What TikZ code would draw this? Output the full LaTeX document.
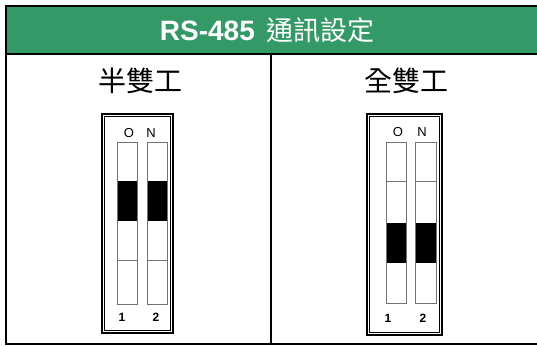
\documentclass[tikz,border=0pt]{standalone}
\usepackage{fontspec}
\setmainfont{Liberation Sans}
\newfontfamily\cjk{Noto Sans CJK TC}
\definecolor{hdr}{HTML}{339966}
\begin{document}
\begin{tikzpicture}[x=1pt,y=-1pt,
  frameout/.style={draw=black,line width=2pt},
  framein/.style={draw=black,line width=0.8pt},
  swbox/.style={draw=black!55,line width=1pt},
  swon/.style={fill=black},
  swdiv/.style={draw=black!55,line width=1pt},
  onlbl/.style={inner sep=0pt,font=\fontsize{13}{13}\selectfont},
  numlbl/.style={inner sep=0pt,font=\bfseries\fontsize{12}{12}\selectfont},
  collbl/.style={inner sep=0pt,font=\cjk\fontsize{28}{28}\selectfont},
  title/.style={inner sep=0pt,text=white,font=\bfseries\fontsize{28}{28}\selectfont}]
\useasboundingbox (0,0) rectangle (537,347);
% header
\fill[hdr] (6,6) rectangle (541,54);
\draw[line width=2pt] (541,6) -- (6,6) -- (6,344) -- (541,344);
\draw[line width=2pt] (6,54) -- (541,54);
\coordinate (divtop) at (271,54);
\coordinate (divbot) at (271,344);
\draw[line width=1.5pt] (divtop) -- (divbot);
\node[title] (ttl) at (267,30) {RS-485\hspace{0.4em}{\cjk\mdseries\fontsize{27}{27}\selectfont 通訊設定}};
% column labels
\node[collbl] (half) at (140,81) {半雙工};
\node[collbl] (full) at (406,81) {全雙工};
% left DIP
\draw[frameout] (102,114) rectangle (173,333);
\draw[framein] (104.8,116.8) rectangle (170.2,330.2);
\fill[swon] (117,181) rectangle (137,221);
\fill[swon] (147,181) rectangle (167,221);
\draw[swdiv] (117,260) -- (137,260);
\draw[swdiv] (147,260) -- (167,260);
\draw[swbox] (117,143) rectangle (137,304);
\draw[swbox] (147,143) rectangle (167,304);
\node[onlbl] (lo) at (129,133) {O};
\node[onlbl] (ln) at (151,133) {N};
\node[numlbl] (l1) at (122,317) {1};
\node[numlbl] (l2) at (156,317) {2};
% right DIP
\draw[frameout] (367,114) rectangle (442,335);
\draw[framein] (369.8,116.8) rectangle (439.2,332.2);
\fill[swon] (386,223) rectangle (406,263);
\fill[swon] (415,223) rectangle (436,263);
\draw[swdiv] (386,182) -- (406,182);
\draw[swdiv] (415,182) -- (436,182);
\draw[swbox] (386,143) rectangle (406,303);
\draw[swbox] (415,143) rectangle (436,303);
\node[onlbl] (ro) at (398,132) {O};
\node[onlbl] (rn) at (422,132) {N};
\node[numlbl] (r1) at (388,318) {1};
\node[numlbl] (r2) at (423,318) {2};
\end{tikzpicture}
\end{document}
